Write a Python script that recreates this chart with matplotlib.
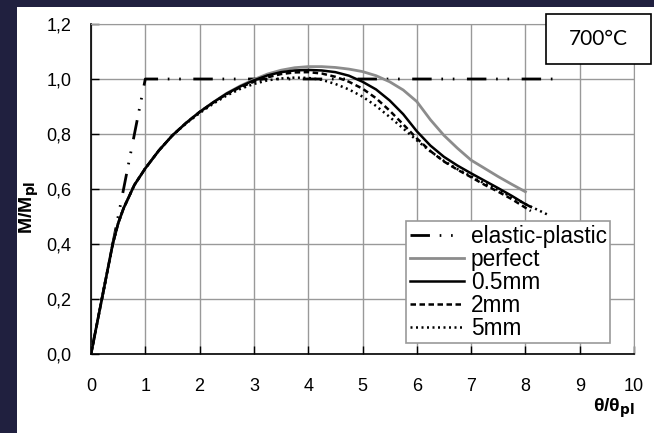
import matplotlib.pyplot as plt
from matplotlib.patches import Rectangle

plt.rcParams['font.family'] = ['Liberation Sans', 'DejaVu Sans']

# elastic-plastic reference line
ep_x = [0, 1.0, 8.6]
ep_y = [0, 1.0, 1.0]

# perfect
perf_x = [0, 0.2, 0.4, 0.5, 0.6, 0.8, 1.0, 1.25, 1.5, 1.75, 2.0, 2.25, 2.5, 2.75, 3.0, 3.25, 3.5,
          3.75, 4.0, 4.25, 4.5, 4.75, 5.0, 5.25, 5.5, 5.75, 6.0, 6.25, 6.5, 6.75, 7.0, 7.25, 7.5,
          7.75, 8.0]
perf_y = [0, 0.2, 0.4, 0.475, 0.53, 0.615, 0.675, 0.74, 0.795, 0.84, 0.88, 0.915, 0.948, 0.975,
          0.998, 1.018, 1.032, 1.041, 1.045, 1.045, 1.042, 1.036, 1.027, 1.012, 0.99, 0.96, 0.918,
          0.852, 0.795, 0.748, 0.705, 0.675, 0.645, 0.617, 0.59]

# 0.5mm
c05_x = [0, 0.2, 0.4, 0.5, 0.6, 0.8, 1.0, 1.25, 1.5, 1.75, 2.0, 2.25, 2.5, 2.75, 3.0, 3.25, 3.5,
         3.75, 4.0, 4.25, 4.5, 4.75, 5.0, 5.25, 5.5, 5.75, 6.0, 6.25, 6.5, 6.75, 7.0, 7.25, 7.5,
         7.75, 8.0, 8.1]
c05_y = [0, 0.2, 0.4, 0.475, 0.53, 0.615, 0.675, 0.74, 0.795, 0.84, 0.88, 0.915, 0.947, 0.973,
         0.995, 1.013, 1.025, 1.031, 1.033, 1.031, 1.025, 1.012, 0.99, 0.962, 0.922, 0.872, 0.81,
         0.758, 0.717, 0.685, 0.657, 0.63, 0.603, 0.575, 0.545, 0.535]

# 2mm
c2_x = [0, 0.2, 0.4, 0.5, 0.6, 0.8, 1.0, 1.25, 1.5, 1.75, 2.0, 2.25, 2.5, 2.75, 3.0, 3.25, 3.5,
        3.75, 4.0, 4.25, 4.5, 4.75, 5.0, 5.25, 5.5, 5.75, 6.0, 6.25, 6.5, 6.75, 7.0, 7.25, 7.5,
        7.75, 8.0, 8.1]
c2_y = [0, 0.2, 0.4, 0.475, 0.53, 0.615, 0.675, 0.74, 0.795, 0.84, 0.88, 0.914, 0.945, 0.97,
        0.99, 1.006, 1.018, 1.024, 1.025, 1.02, 1.008, 0.99, 0.965, 0.93, 0.885, 0.835, 0.784,
        0.738, 0.7, 0.67, 0.643, 0.615, 0.59, 0.563, 0.532, 0.52]

# 5mm
c5_x = [0, 0.2, 0.4, 0.5, 0.6, 0.8, 1.0, 1.25, 1.5, 1.75, 2.0, 2.25, 2.5, 2.75, 3.0, 3.25, 3.5,
        3.75, 4.0, 4.25, 4.5, 4.75, 5.0, 5.25, 5.5, 5.75, 6.0, 6.25, 6.5, 6.75, 7.0, 7.25, 7.5,
        7.75, 8.0, 8.25, 8.45]
c5_y = [0, 0.2, 0.4, 0.475, 0.53, 0.615, 0.675, 0.74, 0.795, 0.838, 0.876, 0.91, 0.94, 0.964,
        0.982, 0.995, 1.002, 1.005, 1.004, 0.997, 0.982, 0.962, 0.936, 0.902, 0.862, 0.82, 0.777,
        0.737, 0.702, 0.672, 0.646, 0.62, 0.596, 0.571, 0.545, 0.522, 0.503]

xticks = [0, 1, 2, 3, 4, 5, 6, 7, 8, 9, 10]
yticks = [0.0, 0.2, 0.4, 0.6, 0.8, 1.0, 1.2]
ytick_labels = ['0,0', '0,2', '0,4', '0,6', '0,8', '1,0', '1,2']

fig = plt.figure(figsize=(6.54, 4.33), dpi=100)
fig.patch.set_facecolor('#20203f')
fig.patches.append(Rectangle((17 / 654, 0), 1, 1 - 7 / 433, transform=fig.transFigure,
                             facecolor='white', edgecolor='none', zorder=-10))

ax = fig.add_axes([91 / 654, 1 - 354 / 433, 543 / 654, 330 / 433])

ax.plot(ep_x, ep_y, color='black', lw=2, linestyle=(0, (7, 3.5, 0.6, 3.5, 0.6, 4.5)),
        label='elastic-plastic', zorder=3)
ax.plot(perf_x, perf_y, color='#8c8c8c', lw=2, label='perfect', zorder=3)
ax.plot(c05_x, c05_y, color='black', lw=1.8, label='0.5mm', zorder=4)
ax.plot(c2_x, c2_y, color='black', lw=1.8, linestyle=(0, (2.2, 1.4)), label='2mm', zorder=4)
ax.plot(c5_x, c5_y, color='black', lw=1.8, linestyle=(0, (0.8, 1.4)), label='5mm', zorder=4)

ax.set_xlim(0, 10)
ax.set_ylim(0, 1.2)
ax.set_xticks(xticks)
ax.set_yticks(yticks)
ax.set_yticklabels(ytick_labels)
ax.tick_params(direction='in', length=6, width=1, labelsize=13, pad=14)
ax.tick_params(axis='x', pad=17)
ax.grid(True, color='#999999', lw=1)
ax.set_axisbelow(True)
for s in ['top', 'right']:
    ax.spines[s].set_color('#999999')
for s in ['left', 'bottom']:
    ax.spines[s].set_linewidth(1.2)

ax.set_ylabel('M/M$_{\\mathbf{pl}}$', fontsize=14, fontweight='bold')
ax.yaxis.set_label_coords(-0.092, 0.445)
ax.set_xlabel('θ/θ$_{\\mathbf{pl}}$', fontsize=14, fontweight='bold', ha='right')
ax.xaxis.set_label_coords(1.002, -0.13)

leg = ax.legend(loc='lower right', bbox_to_anchor=(0.956, 0.033), borderaxespad=0,
                fontsize=16.3, fancybox=False, framealpha=1, edgecolor='#999999',
                labelspacing=0.0, handlelength=2.4, handletextpad=0.3, borderpad=0.15)
leg.get_frame().set_linewidth(1.2)

# temperature box
fig.patches.append(Rectangle((546 / 654, 1 - 64 / 433), 105 / 654, 50 / 433,
                             transform=fig.transFigure, facecolor='white',
                             edgecolor='black', lw=1.2, zorder=5))
fig.text(598 / 654, 1 - 39 / 433, '700°C', fontsize=15, family=['Lato', 'DejaVu Sans'],
         ha='center', va='center', zorder=6)

fig.savefig('out.png', dpi=100)
